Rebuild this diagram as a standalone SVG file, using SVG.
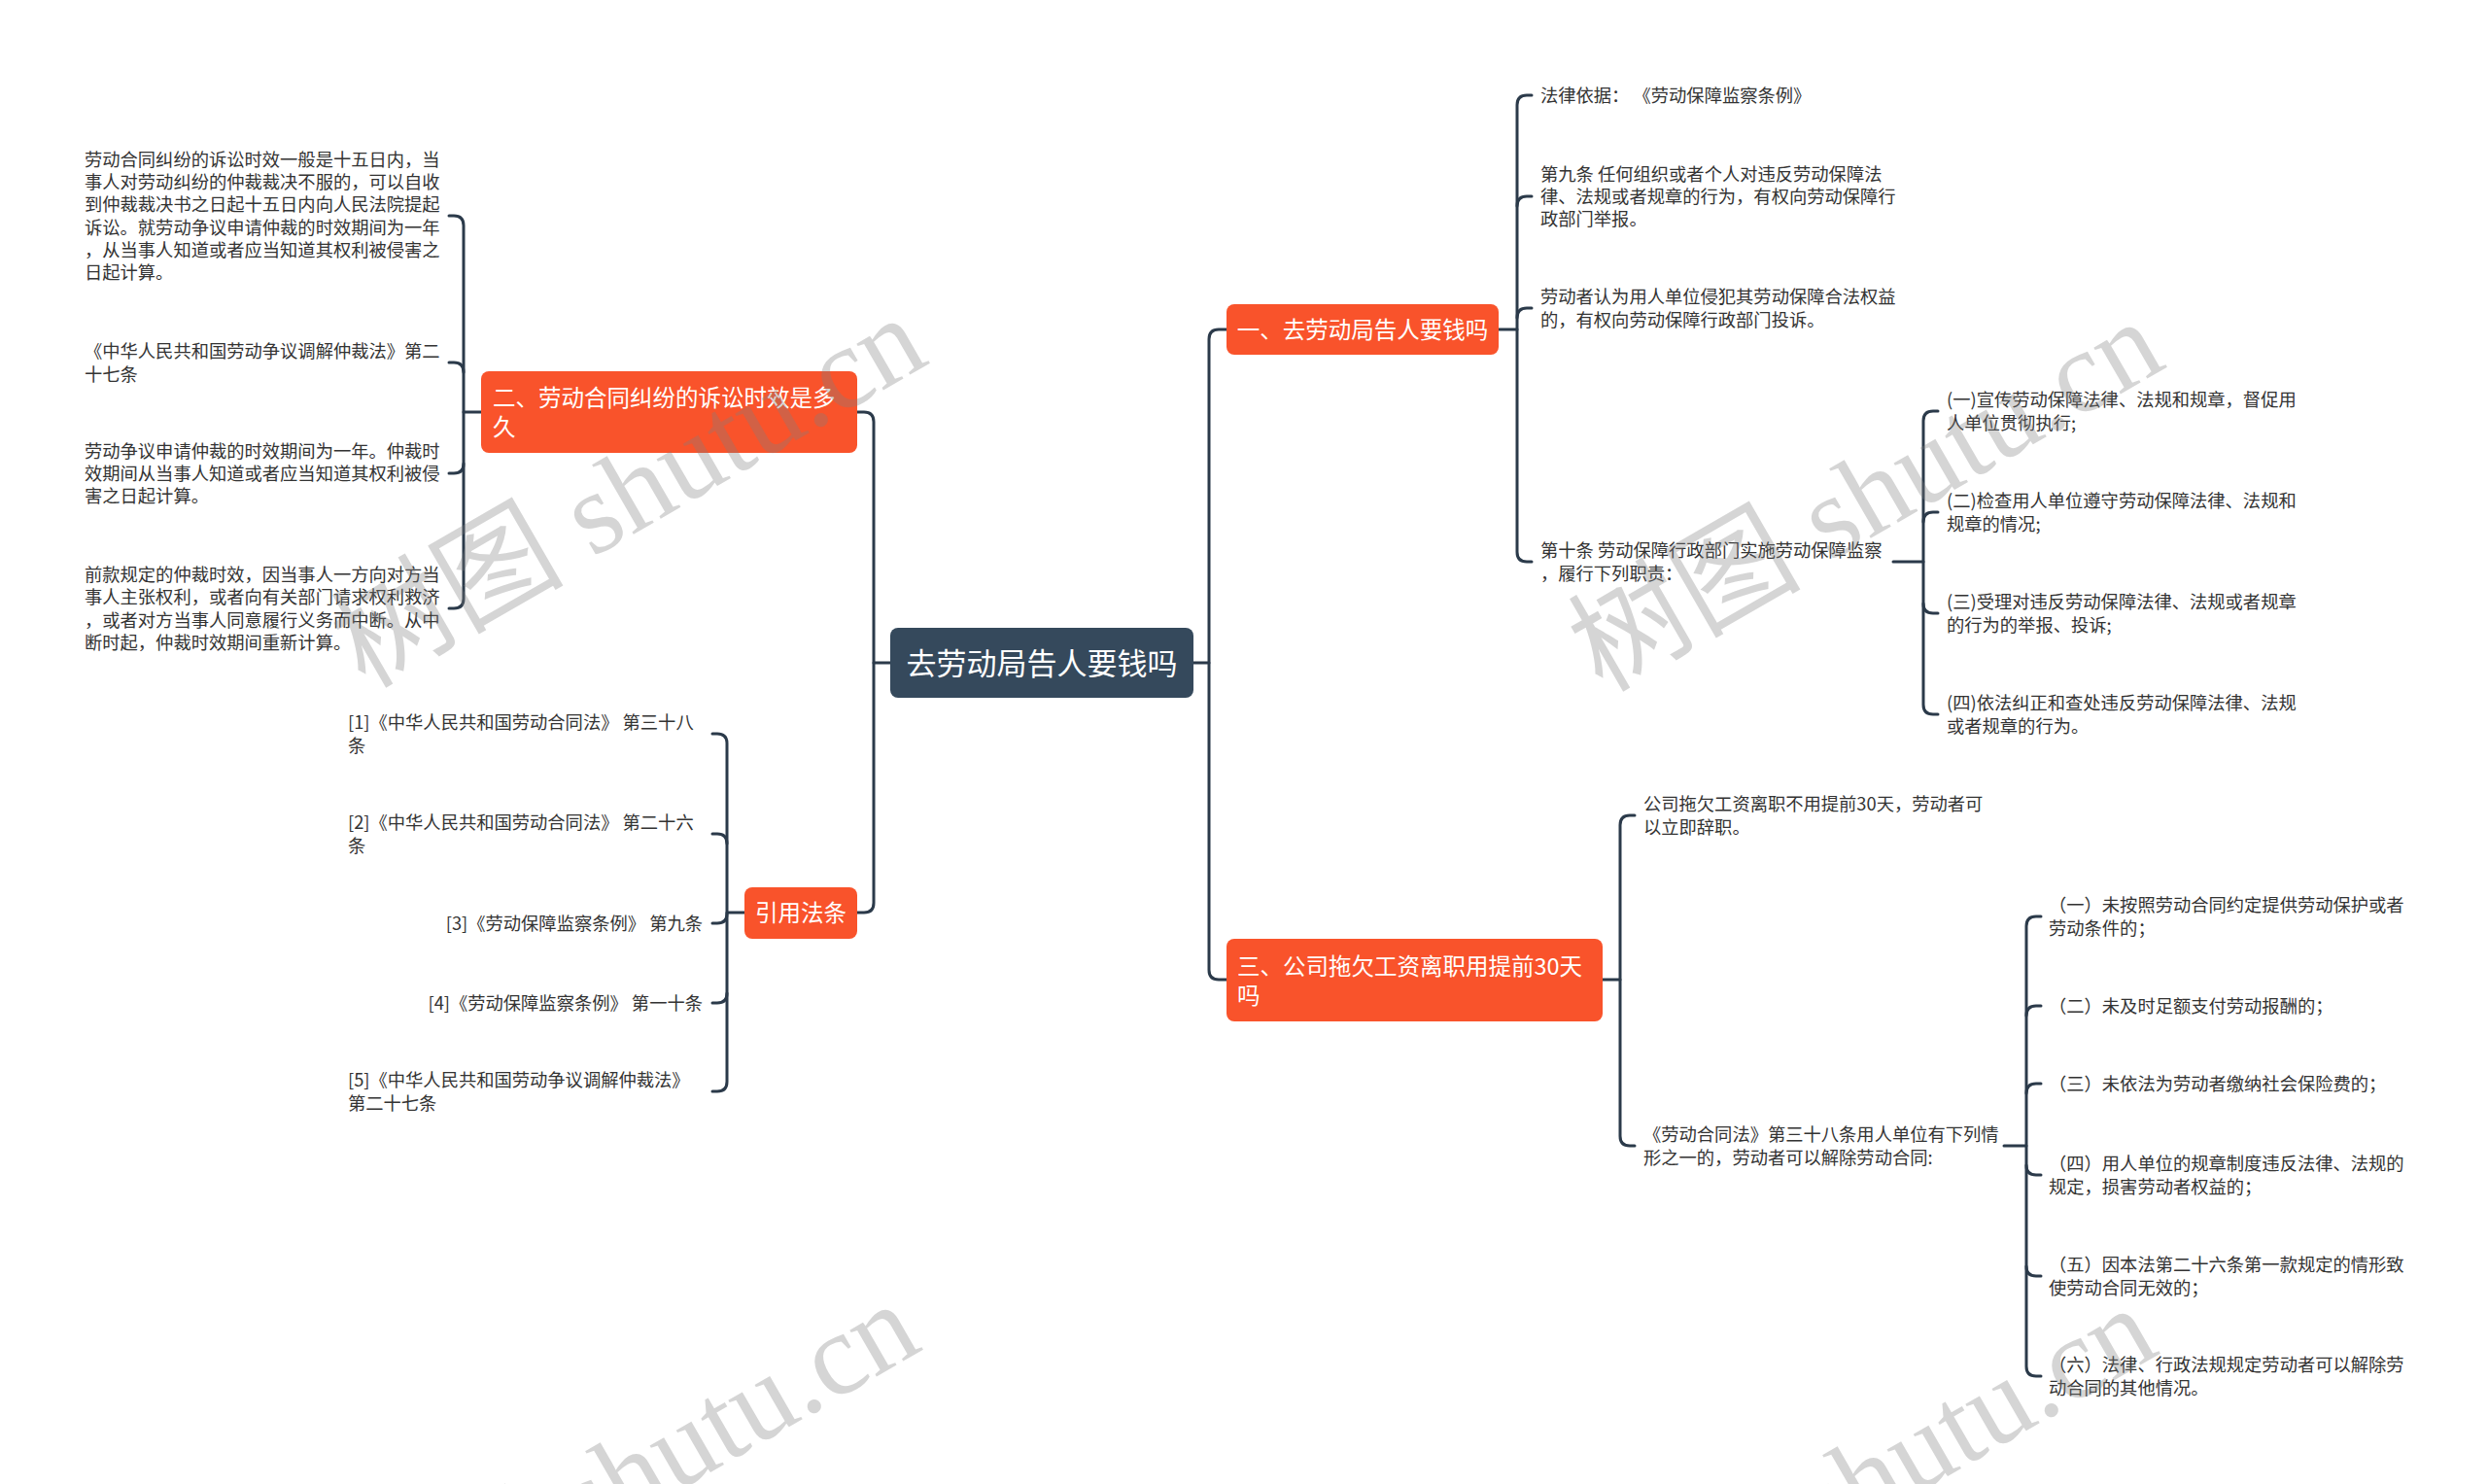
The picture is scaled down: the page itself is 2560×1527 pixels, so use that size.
<svg xmlns="http://www.w3.org/2000/svg" width="2560" height="1527" viewBox="0 0 2560 1527">
<style>
.bg{fill:#ffffff}
.leaf{font-family:"Noto Sans CJK SC","Liberation Sans",sans-serif;font-size:18.3px;fill:#333333}
.nt{font-family:"Noto Sans CJK SC","Liberation Sans",sans-serif;font-size:23.5px;fill:#ffffff}
.ct{font-family:"Noto Sans CJK SC","Liberation Sans",sans-serif;font-size:31px;fill:#ffffff}
.ob{fill:#f9532b}
.cb{fill:#35495c}
.ln{fill:none;stroke:#2b3a4a;stroke-width:3;stroke-linecap:round;stroke-linejoin:round}
.wm{font-family:"Liberation Serif","Noto Sans CJK SC",serif;font-size:120px;fill:#808080;fill-opacity:0.33}
</style>
<rect class="bg" x="0" y="0" width="2560" height="1527"/>

<g id="connectors">
  <path class="ln" d="M916,682 H899"/>
  <path class="ln" d="M882,424 H889 Q899,424 899,434 V929 Q899,939 889,939 H882"/>
  <path class="ln" d="M1228,682 H1244"/>
  <path class="ln" d="M1262,339 H1254 Q1244,339 1244,349 V998 Q1244,1008 1254,1008 H1262"/>

  <path class="ln" d="M495,424 H477"/>
  <path class="ln" d="M462,222 H467 Q477,222 477,232 V616 Q477,626 467,626 H462"/>
  <path class="ln" d="M462,373 H467 Q477,373 477,383"/>
  <path class="ln" d="M462,487 H467 Q477,487 477,477"/>

  <path class="ln" d="M766,939 H748"/>
  <path class="ln" d="M733,755 H738 Q748,755 748,765 V1113 Q748,1123 738,1123 H733"/>
  <path class="ln" d="M733,858 H738 Q748,858 748,868"/>
  <path class="ln" d="M733,950 H738 Q748,950 748,940"/>
  <path class="ln" d="M733,1032 H738 Q748,1032 748,1022"/>

  <path class="ln" d="M1542,339 H1561"/>
  <path class="ln" d="M1576,98 H1571 Q1561,98 1561,108 V568 Q1561,578 1571,578 H1576"/>
  <path class="ln" d="M1561,212 Q1561,202 1571,202 H1576"/>
  <path class="ln" d="M1561,327 Q1561,317 1571,317 H1576"/>

  <path class="ln" d="M1948,578 H1979"/>
  <path class="ln" d="M1994,423 H1989 Q1979,423 1979,433 V725 Q1979,735 1989,735 H1994"/>
  <path class="ln" d="M1979,537 Q1979,527 1989,527 H1994"/>
  <path class="ln" d="M1979,621 Q1979,631 1989,631 H1994"/>

  <path class="ln" d="M1649,1008 H1667"/>
  <path class="ln" d="M1682,839 H1677 Q1667,839 1667,849 V1169 Q1667,1179 1677,1179 H1682"/>

  <path class="ln" d="M2062,1179 H2085"/>
  <path class="ln" d="M2100,943 H2095 Q2085,943 2085,953 V1406 Q2085,1416 2095,1416 H2100"/>
  <path class="ln" d="M2085,1045 Q2085,1035 2095,1035 H2100"/>
  <path class="ln" d="M2085,1125 Q2085,1115 2095,1115 H2100"/>
  <path class="ln" d="M2085,1199 Q2085,1209 2095,1209 H2100"/>
  <path class="ln" d="M2085,1303 Q2085,1313 2095,1313 H2100"/>
</g>

<g id="root">
  <rect class="cb" x="916" y="646" width="312" height="72" rx="8"/>
  <text class="ct" x="1072" y="694" text-anchor="middle">去劳动局告人要钱吗</text>
</g>

<g id="n2">
  <rect class="ob" x="495" y="382" width="387" height="84" rx="8"/>
  <text class="nt" x="507" y="418">二、劳动合同纠纷的诉讼时效是多<tspan x="507" dy="29.5">久</tspan></text>
</g>
<g id="n2a">
  <text class="leaf" x="87" y="170.75">劳动合同纠纷的诉讼时效一般是十五日内，当<tspan x="87" dy="23.3">事人对劳动纠纷的仲裁裁决不服的，可以自收</tspan><tspan x="87" dy="23.3">到仲裁裁决书之日起十五日内向人民法院提起</tspan><tspan x="87" dy="23.3">诉讼。就劳动争议申请仲裁的时效期间为一年</tspan><tspan x="87" dy="23.3">，从当事人知道或者应当知道其权利被侵害之</tspan><tspan x="87" dy="23.3">日起计算。</tspan></text>
</g>
<g id="n2b">
  <text class="leaf" x="87" y="368.35">《中华人民共和国劳动争议调解仲裁法》第二<tspan x="87" dy="23.3">十七条</tspan></text>
</g>
<g id="n2c">
  <text class="leaf" x="87" y="470.7">劳动争议申请仲裁的时效期间为一年。仲裁时<tspan x="87" dy="23.3">效期间从当事人知道或者应当知道其权利被侵</tspan><tspan x="87" dy="23.3">害之日起计算。</tspan></text>
</g>
<g id="n2d">
  <text class="leaf" x="87" y="598.05">前款规定的仲裁时效，因当事人一方向对方当<tspan x="87" dy="23.3">事人主张权利，或者向有关部门请求权利救济</tspan><tspan x="87" dy="23.3">，或者对方当事人同意履行义务而中断。从中</tspan><tspan x="87" dy="23.3">断时起，仲裁时效期间重新计算。</tspan></text>
</g>

<g id="nref">
  <rect class="ob" x="766" y="913" width="116" height="53" rx="8"/>
  <text class="nt" x="824" y="948" text-anchor="middle">引用法条</text>
</g>
<g id="ref1">
  <text class="leaf" x="358" y="750.35">[1]《中华人民共和国劳动合同法》 第三十八<tspan x="358" dy="23.3">条</tspan></text>
</g>
<g id="ref2">
  <text class="leaf" x="358" y="853.35">[2]《中华人民共和国劳动合同法》 第二十六<tspan x="358" dy="23.3">条</tspan></text>
</g>
<g id="ref3">
  <text class="leaf" x="723" y="957" text-anchor="end">[3]《劳动保障监察条例》 第九条</text>
</g>
<g id="ref4">
  <text class="leaf" x="723" y="1039" text-anchor="end">[4]《劳动保障监察条例》 第一十条</text>
</g>
<g id="ref5">
  <text class="leaf" x="358" y="1118.35">[5]《中华人民共和国劳动争议调解仲裁法》<tspan x="358" dy="23.3">第二十七条</tspan></text>
</g>

<g id="n1">
  <rect class="ob" x="1262" y="313" width="280" height="52" rx="8"/>
  <text class="nt" x="1402" y="348" text-anchor="middle">一、去劳动局告人要钱吗</text>
</g>
<g id="n1a">
  <text class="leaf" x="1585" y="105">法律依据： 《劳动保障监察条例》</text>
</g>
<g id="n1b">
  <text class="leaf" x="1585" y="185.7">第九条 任何组织或者个人对违反劳动保障法<tspan x="1585" dy="23.3">律、法规或者规章的行为，有权向劳动保障行</tspan><tspan x="1585" dy="23.3">政部门举报。</tspan></text>
</g>
<g id="n1c">
  <text class="leaf" x="1585" y="312.35">劳动者认为用人单位侵犯其劳动保障合法权益<tspan x="1585" dy="23.3">的，有权向劳动保障行政部门投诉。</tspan></text>
</g>
<g id="n1d">
  <text class="leaf" x="1585" y="573.35">第十条 劳动保障行政部门实施劳动保障监察<tspan x="1585" dy="23.3">，履行下列职责：</tspan></text>
</g>
<g id="n1d1">
  <text class="leaf" x="2003" y="418.35">(一)宣传劳动保障法律、法规和规章，督促用<tspan x="2003" dy="23.3">人单位贯彻执行;</tspan></text>
</g>
<g id="n1d2">
  <text class="leaf" x="2003" y="522.35">(二)检查用人单位遵守劳动保障法律、法规和<tspan x="2003" dy="23.3">规章的情况;</tspan></text>
</g>
<g id="n1d3">
  <text class="leaf" x="2003" y="626.35">(三)受理对违反劳动保障法律、法规或者规章<tspan x="2003" dy="23.3">的行为的举报、投诉;</tspan></text>
</g>
<g id="n1d4">
  <text class="leaf" x="2003" y="730.35">(四)依法纠正和查处违反劳动保障法律、法规<tspan x="2003" dy="23.3">或者规章的行为。</tspan></text>
</g>

<g id="n3">
  <rect class="ob" x="1262" y="966" width="387" height="85" rx="8"/>
  <text class="nt" x="1273" y="1003">三、公司拖欠工资离职用提前30天<tspan x="1273" dy="29.5">吗</tspan></text>
</g>
<g id="n3a">
  <text class="leaf" x="1691" y="834.35">公司拖欠工资离职不用提前30天，劳动者可<tspan x="1691" dy="23.3">以立即辞职。</tspan></text>
</g>
<g id="n3b">
  <text class="leaf" x="1691" y="1174.35">《劳动合同法》第三十八条用人单位有下列情<tspan x="1691" dy="23.3">形之一的，劳动者可以解除劳动合同:</tspan></text>
</g>
<g id="n3b1">
  <text class="leaf" x="2108" y="938.35">（一）未按照劳动合同约定提供劳动保护或者<tspan x="2108" dy="23.3">劳动条件的；</tspan></text>
</g>
<g id="n3b2">
  <text class="leaf" x="2108" y="1042">（二）未及时足额支付劳动报酬的；</text>
</g>
<g id="n3b3">
  <text class="leaf" x="2108" y="1122">（三）未依法为劳动者缴纳社会保险费的；</text>
</g>
<g id="n3b4">
  <text class="leaf" x="2108" y="1204.35">（四）用人单位的规章制度违反法律、法规的<tspan x="2108" dy="23.3">规定，损害劳动者权益的；</tspan></text>
</g>
<g id="n3b5">
  <text class="leaf" x="2108" y="1308.35">（五）因本法第二十六条第一款规定的情形致<tspan x="2108" dy="23.3">使劳动合同无效的；</tspan></text>
</g>
<g id="n3b6">
  <text class="leaf" x="2108" y="1411.35">（六）法律、行政法规规定劳动者可以解除劳<tspan x="2108" dy="23.3">动合同的其他情况。</tspan></text>
</g>

<g id="watermarks">
  <text class="wm" transform="translate(667,541) rotate(-30)" text-anchor="middle">树图 shutu.cn</text>
  <text class="wm" transform="translate(1940,545) rotate(-30)" text-anchor="middle">树图 shutu.cn</text>
  <text class="wm" transform="translate(660,1556) rotate(-30)" text-anchor="middle">树图 shutu.cn</text>
  <text class="wm" transform="translate(1933,1560) rotate(-30)" text-anchor="middle">树图 shutu.cn</text>
</g>
</svg>
